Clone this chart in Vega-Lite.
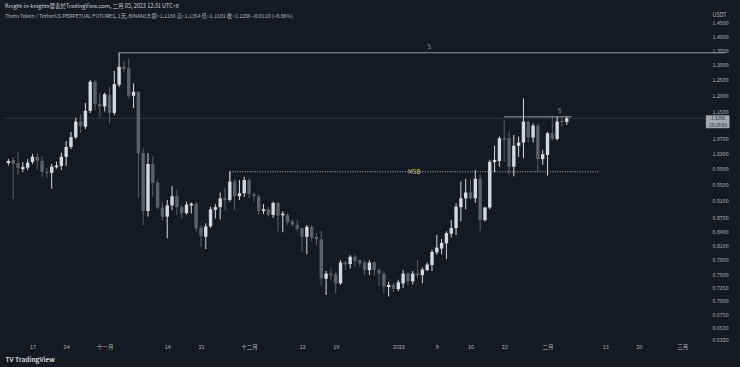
{
  "$schema": "https://vega.github.io/schema/vega-lite/v6.json",
  "width": 704,
  "height": 333,
  "autosize": {"type": "none"},
  "padding": {"left": 4, "top": 10, "right": 32, "bottom": 24},
  "background": "#151924",
  "config": {
    "view": {"stroke": null},
    "font": "Noto Sans CJK TC",
    "axis": {"grid": false, "ticks": false, "domain": false, "labelFont": "Noto Sans CJK TC", "titleFont": "Noto Sans CJK TC"}
  },
  "title": {
    "text": "Knight-in-knights發表於TradingView.com, 二月 05, 2023 12:31 UTC+8",
    "subtitle": "Theta Token / TetherUS PERPETUAL FUTURES, 1天, BINANCE   開=1.1186  高=1.1354  低=1.1101  收=1.1296  +0.0110 (+0.98%)",
    "anchor": "start",
    "frame": "group",
    "orient": "top",
    "offset": -9,
    "dx": 1,
    "fontSize": 5.5,
    "fontWeight": "normal",
    "color": "#d1d4dc",
    "subtitleFontSize": 5.2,
    "subtitleColor": "#b2b5be",
    "subtitlePadding": 4
  },
  "data": {
    "values": [
      {"d":"2022-10-12","o":1.005,"h":1.016,"l":0.998,"c":1.010},
      {"d":"2022-10-13","o":1.013,"h":1.020,"l":0.914,"c":1.003},
      {"d":"2022-10-14","o":1.004,"h":1.034,"l":0.974,"c":0.992},
      {"d":"2022-10-15","o":0.989,"h":1.007,"l":0.981,"c":0.994},
      {"d":"2022-10-16","o":0.9925,"h":1.015,"l":0.986,"c":1.0055},
      {"d":"2022-10-17","o":1.0075,"h":1.029,"l":1.002,"c":1.021},
      {"d":"2022-10-18","o":1.021,"h":1.031,"l":0.987,"c":1.011},
      {"d":"2022-10-19","o":1.010,"h":1.023,"l":0.969,"c":0.9815},
      {"d":"2022-10-20","o":0.982,"h":0.992,"l":0.966,"c":0.978},
      {"d":"2022-10-21","o":0.979,"h":1.002,"l":0.939,"c":0.995},
      {"d":"2022-10-22","o":0.9935,"h":1.008,"l":0.990,"c":0.998},
      {"d":"2022-10-23","o":0.997,"h":1.032,"l":0.986,"c":1.021},
      {"d":"2022-10-24","o":1.021,"h":1.064,"l":0.997,"c":1.048},
      {"d":"2022-10-25","o":1.048,"h":1.090,"l":1.042,"c":1.075},
      {"d":"2022-10-26","o":1.075,"h":1.131,"l":1.070,"c":1.120},
      {"d":"2022-10-27","o":1.120,"h":1.142,"l":1.087,"c":1.107},
      {"d":"2022-10-28","o":1.105,"h":1.176,"l":1.098,"c":1.152},
      {"d":"2022-10-29","o":1.152,"h":1.249,"l":1.145,"c":1.243},
      {"d":"2022-10-30","o":1.243,"h":1.249,"l":1.154,"c":1.173},
      {"d":"2022-10-31","o":1.173,"h":1.207,"l":1.132,"c":1.165},
      {"d":"2022-11-01","o":1.165,"h":1.208,"l":1.150,"c":1.203},
      {"d":"2022-11-02","o":1.201,"h":1.227,"l":1.115,"c":1.146},
      {"d":"2022-11-03","o":1.146,"h":1.279,"l":1.139,"c":1.235},
      {"d":"2022-11-04","o":1.233,"h":1.341,"l":1.226,"c":1.293},
      {"d":"2022-11-05","o":1.293,"h":1.313,"l":1.276,"c":1.285},
      {"d":"2022-11-06","o":1.288,"h":1.322,"l":1.191,"c":1.198},
      {"d":"2022-11-07","o":1.198,"h":1.238,"l":1.160,"c":1.211},
      {"d":"2022-11-08","o":1.211,"h":1.213,"l":0.917,"c":1.031},
      {"d":"2022-11-09","o":1.031,"h":1.044,"l":0.854,"c":0.886},
      {"d":"2022-11-10","o":0.886,"h":1.031,"l":0.873,"c":1.002},
      {"d":"2022-11-11","o":1.002,"h":1.023,"l":0.920,"c":0.954},
      {"d":"2022-11-12","o":0.954,"h":0.961,"l":0.890,"c":0.894},
      {"d":"2022-11-13","o":0.894,"h":0.908,"l":0.865,"c":0.873},
      {"d":"2022-11-14","o":0.873,"h":0.912,"l":0.825,"c":0.899},
      {"d":"2022-11-15","o":0.899,"h":0.946,"l":0.888,"c":0.921},
      {"d":"2022-11-16","o":0.921,"h":0.936,"l":0.877,"c":0.895},
      {"d":"2022-11-17","o":0.895,"h":0.900,"l":0.868,"c":0.881},
      {"d":"2022-11-18","o":0.881,"h":0.908,"l":0.877,"c":0.901},
      {"d":"2022-11-19","o":0.899,"h":0.906,"l":0.880,"c":0.903},
      {"d":"2022-11-20","o":0.903,"h":0.907,"l":0.840,"c":0.847},
      {"d":"2022-11-21","o":0.848,"h":0.854,"l":0.807,"c":0.830},
      {"d":"2022-11-22","o":0.828,"h":0.858,"l":0.802,"c":0.851},
      {"d":"2022-11-23","o":0.851,"h":0.896,"l":0.848,"c":0.890},
      {"d":"2022-11-24","o":0.889,"h":0.902,"l":0.869,"c":0.895},
      {"d":"2022-11-25","o":0.895,"h":0.930,"l":0.867,"c":0.916},
      {"d":"2022-11-26","o":0.916,"h":0.942,"l":0.888,"c":0.912},
      {"d":"2022-11-27","o":0.912,"h":0.982,"l":0.908,"c":0.957},
      {"d":"2022-11-28","o":0.957,"h":0.963,"l":0.888,"c":0.921},
      {"d":"2022-11-29","o":0.921,"h":0.961,"l":0.912,"c":0.928},
      {"d":"2022-11-30","o":0.928,"h":0.969,"l":0.919,"c":0.961},
      {"d":"2022-12-01","o":0.961,"h":0.966,"l":0.916,"c":0.926},
      {"d":"2022-12-02","o":0.926,"h":0.930,"l":0.908,"c":0.921},
      {"d":"2022-12-03","o":0.921,"h":0.925,"l":0.877,"c":0.886},
      {"d":"2022-12-04","o":0.886,"h":0.902,"l":0.879,"c":0.890},
      {"d":"2022-12-05","o":0.890,"h":0.895,"l":0.873,"c":0.877},
      {"d":"2022-12-06","o":0.877,"h":0.908,"l":0.870,"c":0.905},
      {"d":"2022-12-07","o":0.905,"h":0.908,"l":0.840,"c":0.875},
      {"d":"2022-12-08","o":0.876,"h":0.886,"l":0.838,"c":0.880},
      {"d":"2022-12-09","o":0.877,"h":0.881,"l":0.853,"c":0.860},
      {"d":"2022-12-10","o":0.862,"h":0.867,"l":0.851,"c":0.855},
      {"d":"2022-12-11","o":0.855,"h":0.866,"l":0.840,"c":0.846},
      {"d":"2022-12-12","o":0.847,"h":0.848,"l":0.796,"c":0.828},
      {"d":"2022-12-13","o":0.828,"h":0.854,"l":0.791,"c":0.850},
      {"d":"2022-12-14","o":0.850,"h":0.854,"l":0.818,"c":0.826},
      {"d":"2022-12-15","o":0.828,"h":0.836,"l":0.8105,"c":0.823},
      {"d":"2022-12-16","o":0.823,"h":0.841,"l":0.728,"c":0.743},
      {"d":"2022-12-17","o":0.742,"h":0.757,"l":0.711,"c":0.752},
      {"d":"2022-12-18","o":0.752,"h":0.762,"l":0.7395,"c":0.749},
      {"d":"2022-12-19","o":0.751,"h":0.755,"l":0.714,"c":0.733},
      {"d":"2022-12-20","o":0.733,"h":0.779,"l":0.730,"c":0.774},
      {"d":"2022-12-21","o":0.774,"h":0.777,"l":0.759,"c":0.771},
      {"d":"2022-12-22","o":0.771,"h":0.789,"l":0.762,"c":0.786},
      {"d":"2022-12-23","o":0.786,"h":0.791,"l":0.765,"c":0.777},
      {"d":"2022-12-24","o":0.779,"h":0.781,"l":0.766,"c":0.772},
      {"d":"2022-12-25","o":0.774,"h":0.779,"l":0.749,"c":0.759},
      {"d":"2022-12-26","o":0.759,"h":0.779,"l":0.749,"c":0.774},
      {"d":"2022-12-27","o":0.775,"h":0.777,"l":0.748,"c":0.759},
      {"d":"2022-12-28","o":0.759,"h":0.762,"l":0.727,"c":0.752},
      {"d":"2022-12-29","o":0.752,"h":0.757,"l":0.714,"c":0.727},
      {"d":"2022-12-30","o":0.726,"h":0.736,"l":0.708,"c":0.730},
      {"d":"2022-12-31","o":0.730,"h":0.734,"l":0.717,"c":0.722},
      {"d":"2023-01-01","o":0.722,"h":0.740,"l":0.718,"c":0.735},
      {"d":"2023-01-02","o":0.733,"h":0.759,"l":0.724,"c":0.752},
      {"d":"2023-01-03","o":0.752,"h":0.755,"l":0.729,"c":0.737},
      {"d":"2023-01-04","o":0.737,"h":0.757,"l":0.731,"c":0.752},
      {"d":"2023-01-05","o":0.752,"h":0.779,"l":0.743,"c":0.749},
      {"d":"2023-01-06","o":0.749,"h":0.764,"l":0.733,"c":0.760},
      {"d":"2023-01-07","o":0.759,"h":0.774,"l":0.757,"c":0.770},
      {"d":"2023-01-08","o":0.769,"h":0.801,"l":0.757,"c":0.796},
      {"d":"2023-01-09","o":0.795,"h":0.832,"l":0.790,"c":0.805},
      {"d":"2023-01-10","o":0.803,"h":0.823,"l":0.791,"c":0.815},
      {"d":"2023-01-11","o":0.814,"h":0.840,"l":0.781,"c":0.836},
      {"d":"2023-01-12","o":0.835,"h":0.865,"l":0.827,"c":0.847},
      {"d":"2023-01-13","o":0.847,"h":0.904,"l":0.832,"c":0.896},
      {"d":"2023-01-14","o":0.895,"h":0.957,"l":0.862,"c":0.916},
      {"d":"2023-01-15","o":0.916,"h":0.964,"l":0.890,"c":0.930},
      {"d":"2023-01-16","o":0.930,"h":0.962,"l":0.913,"c":0.916},
      {"d":"2023-01-17","o":0.916,"h":0.9865,"l":0.905,"c":0.964},
      {"d":"2023-01-18","o":0.964,"h":0.976,"l":0.841,"c":0.865},
      {"d":"2023-01-19","o":0.865,"h":0.896,"l":0.862,"c":0.894},
      {"d":"2023-01-20","o":0.894,"h":1.013,"l":0.890,"c":1.008},
      {"d":"2023-01-21","o":1.007,"h":1.051,"l":0.981,"c":1.013},
      {"d":"2023-01-22","o":1.010,"h":1.077,"l":0.995,"c":1.072},
      {"d":"2023-01-23","o":1.072,"h":1.125,"l":1.008,"c":1.068},
      {"d":"2023-01-24","o":1.072,"h":1.091,"l":0.974,"c":0.995},
      {"d":"2023-01-25","o":0.995,"h":1.081,"l":0.970,"c":1.051},
      {"d":"2023-01-26","o":1.051,"h":1.077,"l":1.021,"c":1.060},
      {"d":"2023-01-27","o":1.060,"h":1.190,"l":1.017,"c":1.120},
      {"d":"2023-01-28","o":1.120,"h":1.122,"l":1.060,"c":1.074},
      {"d":"2023-01-29","o":1.074,"h":1.115,"l":1.060,"c":1.108},
      {"d":"2023-01-30","o":1.108,"h":1.115,"l":0.981,"c":1.015},
      {"d":"2023-01-31","o":1.015,"h":1.040,"l":1.000,"c":1.028},
      {"d":"2023-02-01","o":1.026,"h":1.090,"l":0.972,"c":1.086},
      {"d":"2023-02-02","o":1.086,"h":1.137,"l":1.066,"c":1.070},
      {"d":"2023-02-03","o":1.070,"h":1.135,"l":1.066,"c":1.120},
      {"d":"2023-02-04","o":1.122,"h":1.130,"l":1.105,"c":1.1186},
      {"d":"2023-02-05","o":1.1186,"h":1.1354,"l":1.1101,"c":1.1296}
    ]
  },
  "layer": [
    {
      "data": {"values": [{}]},
      "mark": {"type": "rule", "color": "#3a3e4a", "strokeWidth": 0.8},
      "encoding": {"y": {"datum": 1.1296, "type": "quantitative"}}
    },
    {
      "mark": {"type": "rule", "strokeWidth": 1},
      "encoding": {
        "x": {
          "field": "d", "type": "temporal",
          "scale": {"type": "utc", "domain": [1665543700000, 1678000320000]},
          "axis": {
            "title": "TV TradingView",
            "titleAnchor": "start", "titleAlign": "left", "titleX": 1, "titleY": 13,
            "titleFontSize": 6.5, "titleFontWeight": "bold", "titleColor": "#d1d4dc",
            "values": [1665964800000, 1666569600000, 1667260800000, 1668384000000, 1668988800000, 1669852800000, 1670803200000, 1671408000000, 1672531200000, 1673222400000, 1673827200000, 1674432000000, 1675209600000, 1676246400000, 1676851200000, 1677628800000],
            "labelExpr": "utcdate(datum.value) == 1 ? (utcmonth(datum.value) == 0 ? '' + utcyear(datum.value) : ['一月','二月','三月','四月','五月','六月','七月','八月','九月','十月','十一月','十二月'][utcmonth(datum.value)]) : '' + utcdate(datum.value)",
            "labelFontSize": 5.5, "labelColor": "#b2b5be", "labelPadding": 1, "labelFlush": false
          }
        },
        "y": {
          "field": "l", "type": "quantitative",
          "scale": {"type": "log", "domain": [0.627, 1.5], "nice": false, "zero": false},
          "axis": {
            "orient": "right",
            "title": "USDT", "titleAngle": 0, "titleAlign": "left", "titleBaseline": "top",
            "titleX": 4, "titleY": 2, "titleFontSize": 5.5, "titleFontWeight": "normal", "titleColor": "#b2b5be",
            "values": [1.45, 1.4, 1.35, 1.3, 1.25, 1.2, 1.15, 1.07, 1.03, 0.99, 0.95, 0.91, 0.87, 0.84, 0.81, 0.78, 0.75, 0.725, 0.7, 0.675, 0.653, 0.632],
            "format": ".4f", "labelFontSize": 5.3, "labelColor": "#b2b5be", "labelPadding": 4
          }
        },
        "y2": {"field": "h"},
        "color": {"condition": {"test": "datum.c >= datum.o", "value": "#d6d8de"}, "value": "#5d606b"}
      }
    },
    {
      "mark": {"type": "bar", "size": 3.4},
      "encoding": {
        "x": {"field": "d", "type": "temporal"},
        "y": {"field": "o", "type": "quantitative"},
        "y2": {"field": "c"},
        "color": {"condition": {"test": "datum.c >= datum.o", "value": "#d6d8de"}, "value": "#5d606b"}
      }
    },
    {
      "data": {"values": [{}]},
      "mark": {"type": "rule", "color": "#9598a1", "strokeWidth": 1},
      "encoding": {
        "x": {"datum": 1667520000000, "type": "temporal"},
        "x2": {"datum": 1678406400000},
        "y": {"datum": 1.341, "type": "quantitative"}
      }
    },
    {
      "data": {"values": [{}]},
      "mark": {"type": "rule", "color": "#9598a1", "strokeWidth": 1},
      "encoding": {
        "x": {"datum": 1667520000000, "type": "temporal"},
        "y": {"datum": 1.341, "type": "quantitative"},
        "y2": {"datum": 1.325}
      }
    },
    {
      "data": {"values": [{}]},
      "mark": {"type": "text", "text": "S", "color": "#9598a1", "fontSize": 6.5},
      "encoding": {
        "x": {"datum": 1673085600000, "type": "temporal"},
        "y": {"datum": 1.362, "type": "quantitative"}
      }
    },
    {
      "data": {"values": [{}]},
      "mark": {"type": "rule", "color": "#9598a1", "strokeWidth": 1},
      "encoding": {
        "x": {"datum": 1674432000000, "type": "temporal"},
        "x2": {"datum": 1675641600000},
        "y": {"datum": 1.134, "type": "quantitative"}
      }
    },
    {
      "data": {"values": [{}]},
      "mark": {"type": "text", "text": "S", "color": "#9598a1", "fontSize": 6},
      "encoding": {
        "x": {"datum": 1675425600000, "type": "temporal"},
        "y": {"datum": 1.152, "type": "quantitative"}
      }
    },
    {
      "data": {"values": [{}]},
      "mark": {"type": "rule", "color": "#b2b5be", "strokeWidth": 1, "strokeDash": [1, 1.5]},
      "encoding": {
        "x": {"datum": 1669507200000, "type": "temporal"},
        "x2": {"datum": 1676142000000},
        "y": {"datum": 0.982, "type": "quantitative"}
      }
    },
    {
      "data": {"values": [{}]},
      "mark": {"type": "rule", "color": "#b2b5be", "strokeWidth": 1},
      "encoding": {
        "x": {"datum": 1669507200000, "type": "temporal"},
        "y": {"datum": 0.982, "type": "quantitative"},
        "y2": {"datum": 0.958}
      }
    },
    {
      "data": {"values": [{}]},
      "mark": {"type": "text", "text": "MSB", "color": "#d6c976", "fontSize": 6, "baseline": "middle"},
      "encoding": {
        "x": {"datum": 1672815600000, "type": "temporal"},
        "y": {"datum": 0.982, "type": "quantitative"}
      }
    },
    {
      "data": {"values": [{}]},
      "mark": {"type": "rect", "color": "#a3a6af", "clip": false},
      "encoding": {
        "x": {"datum": 1678052160000, "type": "temporal"},
        "x2": {"datum": 1678475520000},
        "y": {"datum": 1.1385, "type": "quantitative"},
        "y2": {"datum": 1.1005}
      }
    },
    {
      "data": {"values": [{}]},
      "mark": {"type": "text", "text": "1.1296", "color": "#131722", "fontSize": 4.6, "baseline": "middle", "clip": false},
      "encoding": {
        "x": {"datum": 1678268160000, "type": "temporal"},
        "y": {"datum": 1.1282, "type": "quantitative"}
      }
    },
    {
      "data": {"values": [{}]},
      "mark": {"type": "text", "text": "19:28:03", "color": "#131722", "fontSize": 4.6, "baseline": "middle", "clip": false},
      "encoding": {
        "x": {"datum": 1678268160000, "type": "temporal"},
        "y": {"datum": 1.1075, "type": "quantitative"}
      }
    }
  ]
}
